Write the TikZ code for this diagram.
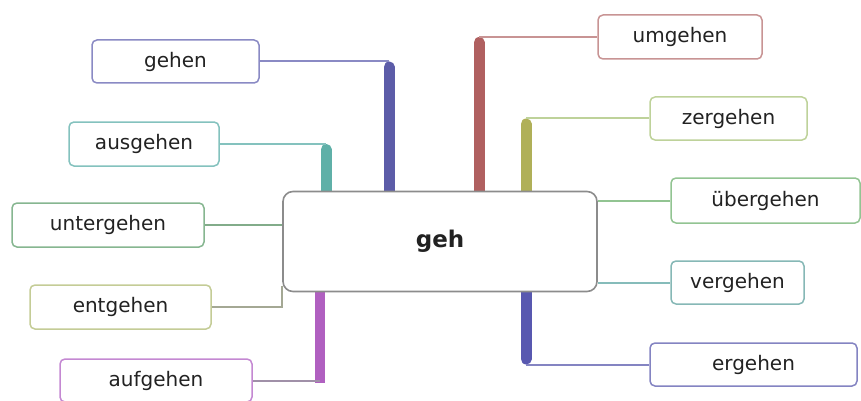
\documentclass[tikz,border=0pt]{standalone}
\usepackage{fontspec}
\setmainfont{DejaVu Sans}
\usetikzlibrary{calc}
\definecolor{cGehen}{HTML}{5C5CA8}
\definecolor{bGehen}{HTML}{8A8AC4}
\definecolor{cAus}{HTML}{5FB0A8}
\definecolor{bAus}{HTML}{84C2BE}
\definecolor{cUnter}{HTML}{82AC8A}
\definecolor{bUnter}{HTML}{86B690}
\definecolor{cEnt}{HTML}{A4A894}
\definecolor{bEnt}{HTML}{C4CC96}
\definecolor{cAuf}{HTML}{B060C0}
\definecolor{bAuf}{HTML}{C488D2}
\definecolor{lAuf}{HTML}{A090A8}
\definecolor{cUm}{HTML}{B06060}
\definecolor{bUm}{HTML}{C89494}
\definecolor{cZer}{HTML}{B0B058}
\definecolor{bZer}{HTML}{BED29A}
\definecolor{cUeber}{HTML}{92C492}
\definecolor{bUeber}{HTML}{92C492}
\definecolor{cVer}{HTML}{86BCBA}
\definecolor{bVer}{HTML}{86B8B6}
\definecolor{cEr}{HTML}{5858B0}
\definecolor{bEr}{HTML}{8484C2}
\definecolor{txt}{HTML}{222222}
\pgfdeclarelayer{back}
\pgfsetlayers{back,main}
\tikzset{
  leaf/.style={draw=#1, line width=1.5pt, fill=white, rounded corners=5pt,
    inner sep=0pt, text=txt, font=\fontsize{20}{24}\selectfont},
  hub/.style={draw=black!45, line width=1.6pt, fill=white, rounded corners=10pt,
    inner sep=0pt, text=txt, font=\fontsize{23}{27}\selectfont\bfseries},
  bar/.style={draw=#1, line width=11pt, line cap=round},
  flatbar/.style={draw=#1, line width=10pt, line cap=butt},
  thin/.style={draw=#1, line width=2pt},
}
\begin{document}
\begin{tikzpicture}[x=1pt,y=-1pt]
\useasboundingbox (0,0) rectangle (861,401);
\node[hub, minimum width=314pt, minimum height=100pt] (c) at (440,241.5) {geh};
\node[leaf=bGehen, minimum width=167pt, minimum height=43pt] (gehen) at (175.5,61.5) {gehen};
\node[leaf=bAus, minimum width=150pt, minimum height=44pt] (aus) at (144,144) {ausgehen};
\node[leaf=bUnter, minimum width=192pt, minimum height=44pt] (unter) at (108,225) {untergehen};
\node[leaf=bEnt, minimum width=181pt, minimum height=44pt] (ent) at (120.5,307) {entgehen};
\node[leaf=bAuf, minimum width=192pt, minimum height=43pt] (auf) at (156,380.5) {aufgehen};
\node[leaf=bUm, minimum width=164pt, minimum height=44pt] (um) at (680,37) {umgehen};
\node[leaf=bZer, minimum width=157pt, minimum height=43pt] (zer) at (728.5,118.5) {zergehen};
\node[leaf=bUeber, minimum width=189pt, minimum height=45pt] (ueber) at (765.5,200.5) {übergehen};
\node[leaf=bVer, minimum width=133pt, minimum height=43pt] (ver) at (737.5,282.5) {vergehen};
\node[leaf=bEr, minimum width=207pt, minimum height=43pt] (er) at (753.5,364.5) {ergehen};
% bar positions
\coordinate (xG) at (389,0);
\coordinate (xA) at (326,0);
\coordinate (xF) at (320,0);
\coordinate (xU) at (479,0);
\coordinate (xZ) at (526,0);
\coordinate (xE) at (526,0);
\coordinate (xL) at (282,0);
\begin{pgfonlayer}{back}
  % gehen
  \draw[bar=cGehen] (c.north -| xG) -- ([yshift=-5.5pt]xG |- gehen.east);
  \draw[thin=bGehen] (gehen.east) -- (xG |- gehen.east);
  % ausgehen
  \draw[bar=cAus] (c.north -| xA) -- ([yshift=-5.5pt]xA |- aus.east);
  \draw[thin=bAus] (aus.east) -- (xA |- aus.east);
  % untergehen
  \draw[thin=cUnter] (unter.east) -- (c.west |- unter.east);
  % entgehen
  \draw[thin=cEnt] (ent.east) -- (xL |- ent.east) -- ([yshift=6pt]xL |- c.south);
  % aufgehen
  \draw[flatbar=cAuf] (c.south -| xF) -- ([yshift=-2pt]xF |- auf.east);
  \draw[thin=lAuf] (auf.east) -- (xF |- auf.east);
  % umgehen
  \draw[bar=cUm] (c.north -| xU) -- ([yshift=-5.5pt]xU |- um.west);
  \draw[thin=bUm] (um.west) -- (xU |- um.west);
  % zergehen
  \draw[bar=cZer] (c.north -| xZ) -- ([yshift=-5.5pt]xZ |- zer.west);
  \draw[thin=bZer] (zer.west) -- (xZ |- zer.west);
  % uebergehen
  \draw[thin=cUeber] (ueber.west) -- (c.east |- ueber.west);
  % vergehen
  \draw[thin=cVer] (ver.west) -- (c.east |- ver.west);
  % ergehen
  \draw[bar=cEr] (c.south -| xE) -- ([yshift=5.5pt]xE |- er.west);
  \draw[thin=bEr] (er.west) -- (xE |- er.west);
\end{pgfonlayer}
\end{tikzpicture}
\end{document}
